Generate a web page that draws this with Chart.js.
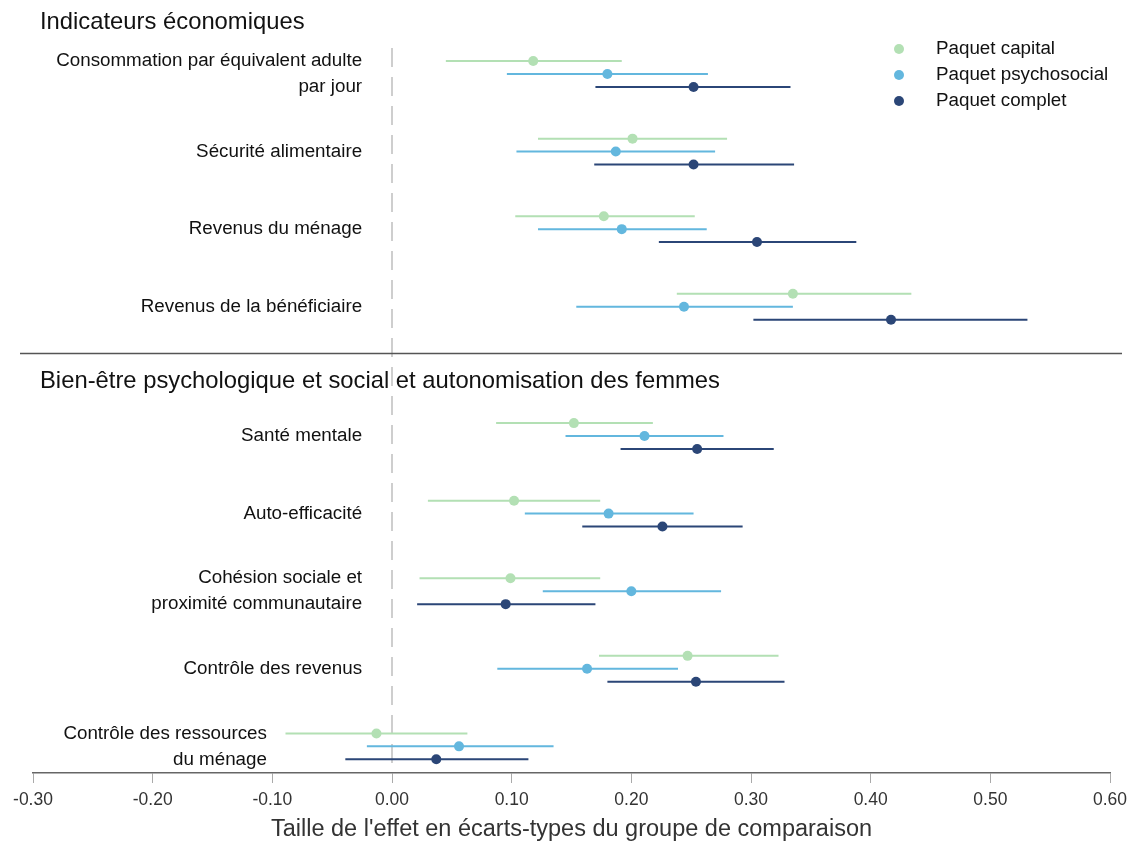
<!DOCTYPE html>
<html lang="fr">
<head>
<meta charset="utf-8">
<title>Taille de l'effet par paquet</title>
<script src="https://cdn.jsdelivr.net/npm/chart.js@4.4.1/dist/chart.umd.min.js"></script>
<style>
  html, body { margin: 0; padding: 0; background: #fff; }
  #wrap { position: relative; width: 1129px; height: 841px; }
</style>
</head>
<body>
<div id="wrap"><canvas id="effectChart"></canvas></div>
<script>
// Outcomes, top to bottom
const outcomes = [
  ['Consommation par équivalent adulte', 'par jour'],
  'Sécurité alimentaire',
  'Revenus du ménage',
  'Revenus de la bénéficiaire',
  'Santé mentale',
  'Auto-efficacité',
  ['Cohésion sociale et', 'proximité communautaire'],
  'Contrôle des revenus',
  ['Contrôle des ressources', 'du ménage']
];
// row of each outcome on the (hidden) vertical scale
const outcomeRows = [0, 6, 12, 18, 28, 34, 40, 46, 52];
const sections = ['Indicateurs économiques', 'Bien-être psychologique et social et autonomisation des femmes'];
const sectionRows = [-4.0, 23.8];
const dividerRow = 21.6;

const seriesNames = ['Paquet capital', 'Paquet psychosocial', 'Paquet complet'];
const seriesOffsets = [-1, 0, 1];
const seriesColors = ['#b3e0b4', '#63b7de', '#2b4677'];

// point estimates and 95% bounds
const capitalEst = [0.118, 0.201, 0.177, 0.335, 0.152, 0.102, 0.099, 0.247, -0.013];
const capitalLo  = [0.045, 0.122, 0.103, 0.238, 0.087, 0.030, 0.023, 0.173, -0.089];
const capitalHi  = [0.192, 0.280, 0.253, 0.434, 0.218, 0.174, 0.174, 0.323, 0.063];

const psychoEst = [0.180, 0.187, 0.192, 0.244, 0.211, 0.181, 0.200, 0.163, 0.056];
const psychoLo  = [0.096, 0.104, 0.122, 0.154, 0.145, 0.111, 0.126, 0.088, -0.021];
const psychoHi  = [0.264, 0.270, 0.263, 0.335, 0.277, 0.252, 0.275, 0.239, 0.135];

const completEst = [0.252, 0.252, 0.305, 0.417, 0.255, 0.226, 0.095, 0.254, 0.037];
const completLo  = [0.170, 0.169, 0.223, 0.302, 0.191, 0.159, 0.021, 0.180, -0.039];
const completHi  = [0.333, 0.336, 0.388, 0.531, 0.319, 0.293, 0.170, 0.328, 0.114];

const xTickValues = [-0.30, -0.20, -0.10, 0.00, 0.10, 0.20, 0.30, 0.40, 0.50, 0.60];
const refValue = 0;

const yMin = -2.01, yMax = 54.06;
const estimates = [capitalEst, psychoEst, completEst];
const lows = [capitalLo, psychoLo, completLo];
const highs = [capitalHi, psychoHi, completHi];

// the last label sits further left so the bars don't run into it
const shiftedLabel = 8;

const FONT = '"Liberation Sans", Arial, sans-serif';

function pointData(s) {
  return outcomeRows.map((r, i) => ({ x: estimates[s][i], y: r + seriesOffsets[s] }));
}
function intervalData(s) {
  const out = [];
  outcomeRows.forEach((r, i) => {
    const y = r + seriesOffsets[s];
    out.push({ x: lows[s][i], y: y }, { x: highs[s][i], y: y }, { x: null, y: null });
  });
  return out;
}

const datasets = [];
seriesNames.forEach((name, s) => {
  datasets.push({
    type: 'scatter',
    label: name,
    data: pointData(s),
    backgroundColor: seriesColors[s],
    borderWidth: 0,
    pointRadius: 5,
    order: 0
  });
});
seriesNames.forEach((name, s) => {
  datasets.push({
    type: 'line',
    label: name + ' IC',
    data: intervalData(s),
    borderColor: seriesColors[s],
    borderWidth: 2,
    pointRadius: 0,
    spanGaps: false,
    order: 1
  });
});
// zero reference line
datasets.push({
  type: 'line',
  label: 'zero',
  data: [{ x: refValue, y: yMin }, { x: refValue, y: yMax }],
  borderColor: '#b4b4b4',
  borderWidth: 1.3,
  borderDash: [19, 10],
  pointRadius: 0,
  order: 2
});

const extras = {
  id: 'extras',
  afterDraw(chart) {
    const ctx = chart.ctx;
    const y = chart.scales.y;
    ctx.save();
    // divider between the two blocks
    const dy = Math.round(y.getPixelForValue(dividerRow)) + 0.5;
    ctx.strokeStyle = '#555';
    ctx.lineWidth = 1.4;
    ctx.beginPath();
    ctx.moveTo(20, dy);
    ctx.lineTo(1122, dy);
    ctx.stroke();
    // section headings
    ctx.font = '23.8px ' + FONT;
    ctx.fillStyle = '#111';
    ctx.textAlign = 'left';
    ctx.textBaseline = 'middle';
    sections.forEach((t, i) => ctx.fillText(t, 40, y.getPixelForValue(sectionRows[i])));
    // legend
    ctx.font = '18.8px ' + FONT;
    seriesNames.forEach((name, s) => {
      const ly = 49 + s * 26;
      ctx.fillStyle = seriesColors[s];
      ctx.beginPath();
      ctx.arc(899, ly, 5, 0, Math.PI * 2);
      ctx.fill();
      ctx.fillStyle = '#111';
      ctx.fillText(name, 936, ly);
    });
    ctx.restore();
  }
};

const labelTicks = {
  autoSkip: false,
  padding: 0,
  color: '#111',
  font: { family: FONT, size: 18.8, lineHeight: 1.38 },
  callback: (v) => outcomes[outcomeRows.indexOf(v)]
};

new Chart(document.getElementById('effectChart'), {
  data: { datasets: datasets },
  plugins: [extras],
  options: {
    responsive: true,
    maintainAspectRatio: false,
    animation: false,
    layout: { padding: { top: 48, left: 33, right: 19, bottom: 0 } },
    plugins: { legend: { display: false }, tooltip: { enabled: false } },
    scales: {
      x: {
        type: 'linear',
        position: 'bottom',
        min: -0.3,
        max: 0.6,
        afterBuildTicks: (scale) => { scale.ticks = xTickValues.map(v => ({ value: v })); },
        // end labels may overhang the plot, the layout padding already leaves room
        afterFit: (scale) => { scale.paddingLeft = 0; scale.paddingRight = 0; },
        ticks: {
          autoSkip: false,
          maxRotation: 0,
          padding: 6.5,
          color: '#333',
          font: { family: FONT, size: 17.5, lineHeight: 1.2 },
          callback: (v) => (Math.abs(v) < 1e-9 ? 0 : v).toFixed(2)
        },
        grid: { display: true, drawOnChartArea: false, drawTicks: true, tickLength: 10, color: '#aaa' },
        border: { display: true, color: '#666', width: 1.5 },
        title: {
          display: true,
          text: "Taille de l'effet en écarts-types du groupe de comparaison",
          color: '#333',
          padding: { top: 0.5, bottom: 0 },
          font: { family: FONT, size: 23.5, lineHeight: 1.0 }
        }
      },
      y: {
        type: 'linear',
        reverse: true,
        min: yMin,
        max: yMax,
        position: { x: -0.025 },
        afterBuildTicks: (scale) => {
          scale.ticks = outcomeRows.filter((v, i) => i !== shiftedLabel).map(v => ({ value: v }));
        },
        ticks: labelTicks,
        grid: { display: false, drawTicks: false },
        border: { display: false }
      },
      yShifted: {
        axis: 'y',
        type: 'linear',
        reverse: true,
        min: yMin,
        max: yMax,
        position: { x: -0.1045 },
        afterBuildTicks: (scale) => { scale.ticks = [{ value: outcomeRows[shiftedLabel] }]; },
        ticks: labelTicks,
        grid: { display: false, drawTicks: false },
        border: { display: false }
      }
    }
  }
});
</script>
</body>
</html>
